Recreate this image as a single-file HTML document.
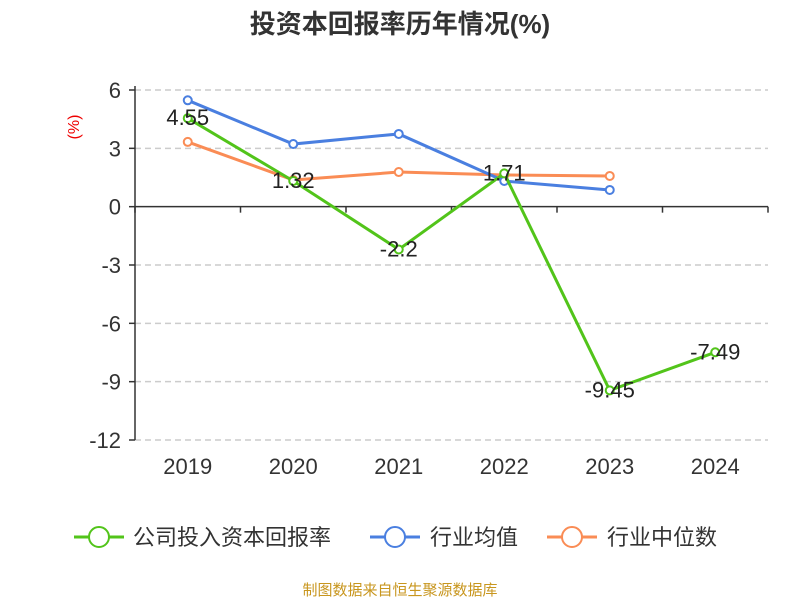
<!DOCTYPE html>
<html><head><meta charset="utf-8">
<style>
body{margin:0;background:#fff;font-family:"Liberation Sans","Noto Sans CJK SC",sans-serif;}
svg text{font-family:"Liberation Sans","Noto Sans CJK SC",sans-serif;}
</style></head>
<body>
<svg id="chart" width="800" height="600" xmlns="http://www.w3.org/2000/svg">
<text x="400" y="33" text-anchor="middle" font-size="26" font-weight="bold" fill="#333">投资本回报率历年情况(%)</text>
<text transform="translate(79,127) rotate(-90)" text-anchor="middle" font-size="16" fill="#e00">(%)</text>
<g id="grid"></g><g id="axes"></g><g id="series"></g><g id="labels"></g>
<g>
<g><line x1="74" y1="537" x2="124" y2="537" stroke="#52c41a" stroke-width="3"/><circle cx="99" cy="537" r="10" fill="#fff" stroke="#52c41a" stroke-width="2"/><text x="133" y="545" font-size="22" fill="#333">公司投入资本回报率</text></g>
<g><line x1="370" y1="537" x2="420" y2="537" stroke="#4a7fe0" stroke-width="3"/><circle cx="395" cy="537" r="10" fill="#fff" stroke="#4a7fe0" stroke-width="2"/><text x="430" y="545" font-size="22" fill="#333">行业均值</text></g>
<g><line x1="547" y1="537" x2="597" y2="537" stroke="#fa8c55" stroke-width="3"/><circle cx="572" cy="537" r="10" fill="#fff" stroke="#fa8c55" stroke-width="2"/><text x="607" y="545" font-size="22" fill="#333">行业中位数</text></g>
</g>
<text x="400" y="595" text-anchor="middle" font-size="15" fill="#c8961e">制图数据来自恒生聚源数据库</text>
</svg>
<script>
const categories=["2019","2020","2021","2022","2023","2024"];
const companyValues=[4.55,1.32,-2.2,1.71,-9.45,-7.49];
const avgValues=[5.47,3.22,3.74,1.32,0.86,null];
const medianValues=[3.33,1.37,1.78,1.63,1.58,null];
const yTicks=[6,3,0,-3,-6,-9,-12];
const NS="http://www.w3.org/2000/svg";
const x0=135,x1=768,yTop=90,yBot=440,vMax=6,vMin=-12;
const band=(x1-x0)/categories.length;
const xs=i=>x0+band*(i+0.5);
const ys=v=>yTop+(vMax-v)/(vMax-vMin)*(yBot-yTop);
function mk(tag,attrs,parent){const e=document.createElementNS(NS,tag);for(const k in attrs)e.setAttribute(k,attrs[k]);parent.appendChild(e);return e;}
const grid=document.getElementById('grid'),axes=document.getElementById('axes');
yTicks.forEach(t=>{
  const y=ys(t);
  if(t!==0){const g=mk('line',{x1:x0,x2:x1,y1:y,y2:y,stroke:'#ccc','stroke-dasharray':'6,4','stroke-width':1.5},grid);
  
  }
  mk('line',{x1:x0-6,x2:x0,y1:y,y2:y,stroke:'#333','stroke-width':1.5},axes);
  const tx=mk('text',{x:x0-14,y:y+8,'text-anchor':'end','font-size':22,fill:'#333'},axes);
  tx.textContent=t;
  
  
});
mk('line',{x1:x0,x2:x0,y1:yTop-4,y2:yBot,stroke:'#333','stroke-width':1.5},axes);
mk('line',{x1:x0,x2:x1,y1:ys(0),y2:ys(0),stroke:'#333','stroke-width':1.5},axes);
for(let i=0;i<=categories.length;i++){const x=x0+band*i;mk('line',{x1:x,x2:x,y1:ys(0),y2:ys(0)+6,stroke:'#333','stroke-width':1.5},axes);}
categories.forEach((c,i)=>{const t=mk('text',{x:xs(i),y:474,'text-anchor':'middle','font-size':22,fill:'#333'},axes);t.textContent=c;

});
const series=document.getElementById('series');
function draw(vals,color,name){
  const pts=vals.map((v,i)=>v==null?null:[xs(i),ys(v)]).filter(p=>p);
  const pl=mk('polyline',{points:pts.map(p=>p.join(',')).join(' '),fill:'none',stroke:color,'stroke-width':3},series);
  
  
  pts.forEach(p=>{const c=mk('circle',{cx:p[0],cy:p[1],r:4,fill:'#fff',stroke:color,'stroke-width':2},series);
  
  });
}
draw(medianValues,'#fa8c55','industry-median');
draw(avgValues,'#4a7fe0','industry-avg');
draw(companyValues,'#52c41a','company');
const labels=document.getElementById('labels');
companyValues.forEach((v,i)=>{const t=mk('text',{x:xs(i),y:ys(v)+7,'text-anchor':'middle','font-size':22,fill:'#222'},labels);
t.textContent=v;

});
</script>
</body></html>
